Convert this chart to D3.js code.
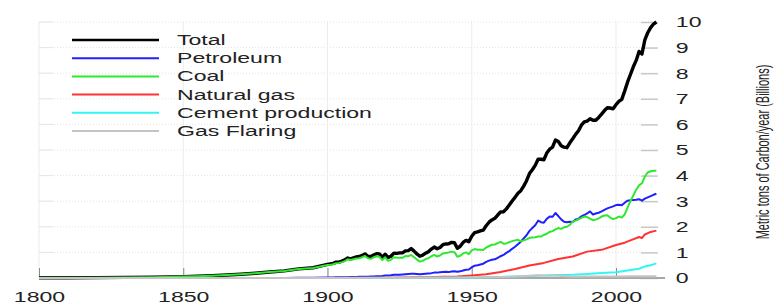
<!DOCTYPE html>
<html>
<head>
<meta charset="utf-8">
<script src="https://cdn.jsdelivr.net/npm/d3@7"></script>
<style>
  body { margin: 0; background: #fff; }
  svg { display: block; font-family: "Liberation Sans", Arial, sans-serif; }
</style>
</head>
<body>
<div id="chart"></div>
<script>
// years: decades/half-decades before 1900, then every year
const years = [1800, 1810, 1820, 1830, 1840, 1850, 1855, 1860, 1865, 1870, 1875, 1880, 1885, 1890, 1895]
  .concat(d3.range(1900, 2015))

const total = [
  0.008, 0.010, 0.014, 0.024, 0.033, 0.054, 0.07, 0.091, 0.115, 0.147, 0.188, 0.236, 0.277, 0.356, 0.40,
  0.53, 0.55, 0.57, 0.62, 0.62, 0.66, 0.71, 0.78, 0.75, 0.79,
  0.82, 0.84, 0.88, 0.94, 0.85, 0.84, 0.90, 0.95, 0.94, 0.81,
  0.93, 0.80, 0.85, 0.97, 0.96, 0.98, 0.98, 1.06, 1.07, 1.15,
  1.05, 0.94, 0.85, 0.89, 0.97, 1.03, 1.13, 1.21, 1.14, 1.19,
  1.30, 1.33, 1.34, 1.39, 1.38, 1.16, 1.24, 1.39, 1.47, 1.42,
  1.63, 1.77, 1.80, 1.84, 1.87, 2.04, 2.18, 2.27, 2.33, 2.46,
  2.58, 2.59, 2.70, 2.85, 3.01, 3.15, 3.31, 3.41, 3.59, 3.80,
  4.08, 4.23, 4.40, 4.64, 4.64, 4.62, 4.88, 5.03, 5.11, 5.39,
  5.33, 5.17, 5.11, 5.09, 5.28, 5.44, 5.61, 5.75, 5.97, 6.10,
  6.13, 6.22, 6.16, 6.16, 6.27, 6.40, 6.54, 6.65, 6.64, 6.61,
  6.77, 6.90, 6.98, 7.30, 7.65, 7.95, 8.25, 8.50, 8.85, 8.75,
  9.30, 9.58, 9.78, 9.92, 10.0
]

const coal = [
  0.008, 0.010, 0.014, 0.024, 0.033, 0.054, 0.07, 0.091, 0.114, 0.146, 0.186, 0.233, 0.272, 0.348, 0.39,
  0.51, 0.52, 0.54, 0.58, 0.59, 0.62, 0.66, 0.73, 0.70, 0.73,
  0.76, 0.77, 0.81, 0.86, 0.77, 0.75, 0.81, 0.85, 0.83, 0.70,
  0.81, 0.67, 0.71, 0.81, 0.79, 0.79, 0.79, 0.86, 0.85, 0.90,
  0.81, 0.72, 0.64, 0.67, 0.74, 0.77, 0.85, 0.90, 0.84, 0.88,
  0.96, 0.98, 1.00, 1.03, 1.01, 0.83, 0.87, 0.96, 1.00, 0.93,
  1.08, 1.13, 1.10, 1.10, 1.09, 1.19, 1.25, 1.30, 1.31, 1.36,
  1.41, 1.34, 1.35, 1.40, 1.44, 1.47, 1.49, 1.44, 1.47, 1.51,
  1.57, 1.58, 1.59, 1.62, 1.62, 1.68, 1.73, 1.80, 1.83, 1.90,
  1.95, 1.92, 1.98, 2.00, 2.08, 2.20, 2.24, 2.29, 2.35, 2.40,
  2.38, 2.32, 2.26, 2.28, 2.33, 2.40, 2.44, 2.45, 2.36, 2.30,
  2.34, 2.40, 2.36, 2.48, 2.75, 3.00, 3.22, 3.45, 3.62, 3.70,
  3.96, 4.12, 4.17, 4.19, 4.19
]

const petroleum = [
  0, 0, 0, 0, 0, 0, 0, 0, 0, 0.001, 0.002, 0.003, 0.004, 0.006, 0.01,
  0.02, 0.02, 0.02, 0.03, 0.03, 0.03, 0.03, 0.03, 0.04, 0.04,
  0.04, 0.05, 0.05, 0.05, 0.05, 0.06, 0.06, 0.07, 0.07, 0.08,
  0.10, 0.10, 0.11, 0.13, 0.13, 0.13, 0.14, 0.15, 0.16, 0.17,
  0.17, 0.16, 0.15, 0.16, 0.17, 0.18, 0.19, 0.21, 0.21, 0.22,
  0.23, 0.24, 0.23, 0.25, 0.26, 0.24, 0.26, 0.29, 0.32, 0.33,
  0.42, 0.48, 0.50, 0.53, 0.56, 0.63, 0.68, 0.71, 0.73, 0.79,
  0.85, 0.90, 0.98, 1.05, 1.14, 1.22, 1.32, 1.42, 1.55, 1.67,
  1.84, 1.95, 2.06, 2.24, 2.18, 2.16, 2.31, 2.40, 2.39, 2.54,
  2.42, 2.29, 2.20, 2.18, 2.20, 2.19, 2.29, 2.31, 2.41, 2.46,
  2.52, 2.60, 2.48, 2.52, 2.55, 2.60, 2.66, 2.72, 2.76, 2.80,
  2.85, 2.86, 2.84, 2.94, 3.02, 3.04, 3.05, 3.06, 3.08, 3.02,
  3.10, 3.15, 3.20, 3.25, 3.29
]

const gasYears = [1800, 1880, 1900, 1910, 1920, 1930, 1935, 1940, 1945, 1950, 1955, 1960, 1965, 1970, 1975,
  1980, 1985, 1990, 1995, 2000, 2003, 2005, 2008, 2009, 2010, 2012, 2014]
const naturalGas = [0, 0, 0.003, 0.006, 0.010, 0.028, 0.030, 0.045, 0.055, 0.097, 0.145, 0.235, 0.35, 0.49, 0.59,
  0.74, 0.84, 1.03, 1.10, 1.29, 1.38, 1.47, 1.60, 1.56, 1.70, 1.80, 1.85]

const cementYears = [1800, 1900, 1930, 1950, 1955, 1960, 1965, 1970, 1975, 1980, 1985, 1990, 1995, 2000,
  2005, 2008, 2010, 2012, 2014]
const cement = [0, 0, 0.01, 0.018, 0.03, 0.043, 0.057, 0.078, 0.095, 0.12, 0.13, 0.157, 0.20, 0.226,
  0.31, 0.36, 0.45, 0.50, 0.57]

const flaringYears = [1800, 1900, 1950, 1955, 1960, 1965, 1970, 1973, 1975, 1980, 1985, 1990, 1995, 2000,
  2005, 2010, 2014]
const gasFlaring = [0, 0, 0.023, 0.031, 0.039, 0.056, 0.087, 0.11, 0.095, 0.086, 0.051, 0.058, 0.058, 0.061,
  0.066, 0.066, 0.068]

const seriesNames = ['Total', 'Petroleum', 'Coal', 'Natural gas', 'Cement production', 'Gas Flaring']
const seriesColors = ['#000000', '#2020ff', '#2ee82e', '#ff3333', '#33f5f5', '#c4c4c4']
const xTicks = [1800, 1850, 1900, 1950, 2000]
const yTicks = d3.range(0, 11)

// the original picture is stretched sideways, text looks wide
const stretch = 1.65

function draw() {
  const width = 774, height = 305
  const svg = d3.select('#chart').append('svg')
    .attr('width', width).attr('height', height)

  const x = d3.scaleLinear().domain([1800, 2000]).range([39, 616])
  const y = d3.scaleLinear().domain([0, 10]).range([278, 22])

  // grid
  svg.append('g').selectAll('line').data(yTicks).enter().append('line')
    .attr('x1', x(1800)).attr('x2', x(2014.5))
    .attr('y1', y).attr('y2', y)
    .attr('stroke', '#e2e2e2').attr('stroke-dasharray', '1,2')
  svg.append('g').selectAll('line').data(xTicks).enter().append('line')
    .attr('x1', x).attr('x2', x)
    .attr('y1', y(10)).attr('y2', y(0))
    .attr('stroke', '#ececec')
  // faint left ticks
  svg.append('g').selectAll('line').data(yTicks.slice(1)).enter().append('line')
    .attr('x1', x(1800)).attr('x2', x(1805))
    .attr('y1', y).attr('y2', y)
    .attr('stroke', '#e6e6e6')

  // bottom axis
  const xAxis = svg.append('g')
    .attr('transform', 'translate(0,' + y(0) + ')')
    .call(d3.axisBottom(x).tickValues(xTicks).tickFormat(d3.format('d')).tickSize(-10).tickSizeOuter(0).tickPadding(0))
  xAxis.select('.domain').attr('stroke', 'none')
  xAxis.selectAll('.tick line').attr('stroke', '#888')
  xAxis.selectAll('text')
    .attr('y', 24).attr('dy', 0)
    .attr('transform', 'scale(' + stretch + ',1)')
    .attr('font-size', 14).attr('fill', '#222')
    .attr('font-family', '"Liberation Sans", Arial, sans-serif')

  // right axis
  const yAxis = svg.append('g')
    .attr('transform', 'translate(' + x(2014.5) + ',0)')
    .call(d3.axisRight(y).tickValues(yTicks).tickSize(0).tickPadding(0))
  yAxis.select('.domain').remove()
  yAxis.selectAll('.tick').append('line')
    .attr('x1', -17).attr('x2', 0)
    .attr('stroke', '#c8c8c8').attr('stroke-width', 1.5)
  yAxis.selectAll('text')
    .attr('x', 18 / stretch).attr('dy', '0.35em')
    .attr('transform', 'scale(' + stretch + ',1)')
    .attr('font-size', 14).attr('fill', '#222')
    .attr('font-family', '"Liberation Sans", Arial, sans-serif')

  // baseline
  svg.append('line')
    .attr('x1', x(1800)).attr('x2', x(2017))
    .attr('y1', y(0)).attr('y2', y(0))
    .attr('stroke', '#a8a8a8').attr('stroke-width', 2)

  const line = d3.line().x(function(d){ return x(d[0]) }).y(function(d){ return y(d[1]) })

  const series = [
    { years: years, values: total, w: 3.4 },
    { years: years, values: petroleum, w: 2 },
    { years: years, values: coal, w: 2 },
    { years: gasYears, values: naturalGas, w: 2 },
    { years: cementYears, values: cement, w: 2 },
    { years: flaringYears, values: gasFlaring, w: 2 }
  ]

  svg.append('g').selectAll('path').data(series).enter().append('path')
    .attr('d', function(s){ return line(d3.zip(s.years, s.values)) })
    .attr('fill', 'none')
    .attr('stroke', function(s, i){ return seriesColors[i] })
    .attr('stroke-width', function(s){ return s.w })
    .attr('stroke-linejoin', 'round')

  // legend
  const legend = svg.append('g').selectAll('g').data(seriesNames).enter().append('g')
    .attr('transform', function(d, i){ return 'translate(72,' + (40 + i * 18.2) + ')' })
  legend.append('line')
    .attr('x1', 0).attr('x2', 87)
    .attr('stroke', function(d, i){ return seriesColors[i] })
    .attr('stroke-width', function(d, i){ return i === 0 ? 2.5 : 2 })
  legend.append('text')
    .attr('x', 105 / stretch).attr('y', 5)
    .attr('transform', 'scale(' + stretch + ',1)')
    .attr('font-size', 14).attr('fill', '#222')
    .text(function(d){ return d })

  // y title
  svg.append('text')
    .attr('transform', 'translate(769,152) scale(1.75,1) rotate(-90)')
    .attr('text-anchor', 'middle')
    .attr('font-size', 11).attr('fill', '#222')
    .text('Metric tons of Carbon/year (Billions)')
}

draw()
</script>
</body>
</html>
